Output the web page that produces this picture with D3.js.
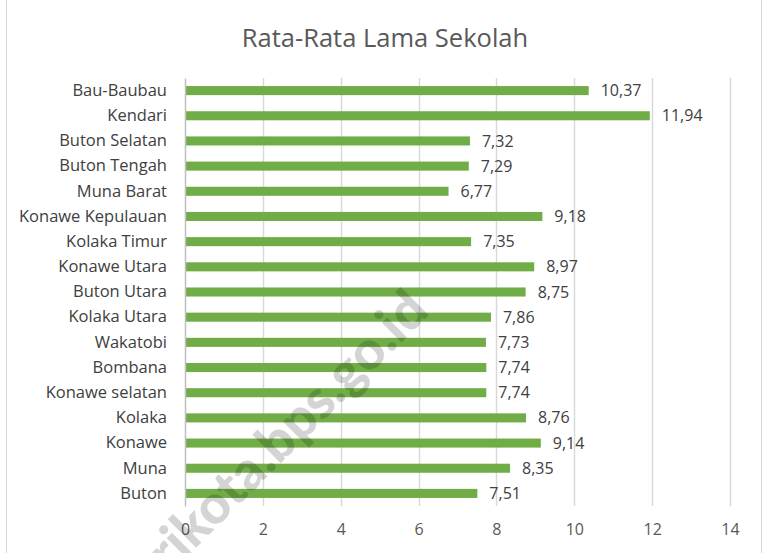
<!DOCTYPE html>
<html>
<head>
<meta charset="utf-8">
<script src="https://cdn.jsdelivr.net/npm/d3@7"></script>
<style>
  body { margin: 0; background: #fff; }
  svg { display: block; font-family: "Open Sans", Lato, sans-serif; }
</style>
</head>
<body>
<svg id="chart" width="763" height="553"></svg>
<script>
// Kabupaten / kota, top to bottom as shown
const regions = [
  "Bau-Baubau", "Kendari", "Buton Selatan", "Buton Tengah", "Muna Barat",
  "Konawe Kepulauan", "Kolaka Timur", "Konawe Utara", "Buton Utara", "Kolaka Utara",
  "Wakatobi", "Bombana", "Konawe selatan", "Kolaka", "Konawe", "Muna", "Buton"
];
const years = [
  10.37, 11.94, 7.32, 7.29, 6.77,
  9.18, 7.35, 8.97, 8.75, 7.86,
  7.73, 7.74, 7.74, 8.76, 9.14, 8.35, 7.51
];
const xTicks = [0, 2, 4, 6, 8, 10, 12, 14];

const svg = d3.select("#chart");
const width = 763, height = 553;
const margin = { top: 78, right: 33, bottom: 47, left: 185 };
const innerW = width - margin.left - margin.right;
const innerH = height - margin.top - margin.bottom;

// chart area frame (only sides visible)
svg.append("line").attr("x1", 6.5).attr("x2", 6.5).attr("y1", 0).attr("y2", height)
  .attr("stroke", "#d9d9d9");
svg.append("line").attr("x1", 761.5).attr("x2", 761.5).attr("y1", 0).attr("y2", height)
  .attr("stroke", "#d9d9d9");

// Title
svg.append("text")
  .attr("x", 385)
  .attr("y", 47)
  .attr("text-anchor", "middle")
  .attr("font-size", 25.5)
  .attr("fill", "#595959")
  .text("Rata-Rata Lama Sekolah");

const g = svg.append("g").attr("transform", `translate(${margin.left},${margin.top})`);

const x = d3.scaleLinear().domain([0, 14]).range([0, innerW]);
const y = d3.scaleBand().domain(regions).range([0, innerH]).paddingInner(0.64).paddingOuter(0.32);

// gridlines
g.selectAll(".grid")
  .data(xTicks.slice(1))
  .join("line")
    .attr("class", "grid")
    .attr("x1", d => Math.round(x(d)) + 0.5)
    .attr("x2", d => Math.round(x(d)) + 0.5)
    .attr("y1", 0)
    .attr("y2", innerH)
    .attr("stroke", "#d9d9d9")
    .attr("stroke-width", 1.5);

// x axis labels
const xAxis = d3.axisBottom(x).tickValues(xTicks).tickSize(0).tickPadding(18);
const xAxisG = g.append("g").attr("transform", `translate(0,${innerH})`).call(xAxis);
xAxisG.select(".domain").remove();
xAxisG.selectAll("text").attr("font-size", 16).attr("fill", "#595959")
  .style("font-family", "'Open Sans', Lato, sans-serif");

// bars
g.selectAll(".bar")
  .data(years)
  .join("rect")
    .attr("class", "bar")
    .attr("x", 1)
    .attr("y", (d, i) => y(regions[i]))
    .attr("width", d => x(d) - 1)
    .attr("height", y.bandwidth())
    .attr("fill", "#70ad47");

// y axis
const yAxis = d3.axisLeft(y).tickSize(0).tickPadding(18);
const yAxisG = g.append("g").call(yAxis);
yAxisG.select(".domain").attr("stroke", "#bfbfbf").attr("stroke-width", 1.5);
yAxisG.selectAll("text").attr("font-size", 16.5).attr("fill", "#404040")
  .style("font-family", "'Open Sans', Lato, sans-serif");

// value labels
g.selectAll(".val")
  .data(years)
  .join("text")
    .attr("class", "val")
    .attr("x", d => x(d) + 12)
    .attr("y", (d, i) => y(regions[i]) + y.bandwidth() / 2)
    .attr("dy", "0.35em")
    .attr("font-size", 16)
    .attr("fill", "#404040")
    .text(d => d.toFixed(2).replace(".", ","));

// watermark
svg.append("text")
  .attr("transform", "translate(431,313) rotate(-45)")
  .attr("text-anchor", "end")
  .attr("font-size", 54)
  .attr("font-weight", 900)
  .style("font-family", "Lato, 'Open Sans', sans-serif")
  .attr("fill", "#000")
  .attr("fill-opacity", 0.17)
  .text("kendarikota.bps.go.id");
</script>
</body>
</html>
